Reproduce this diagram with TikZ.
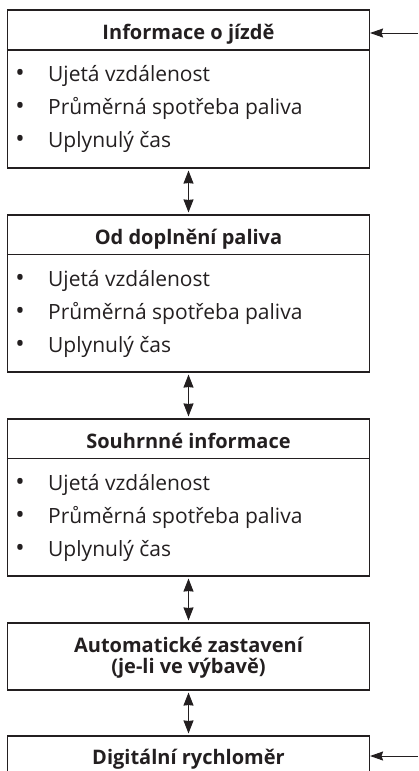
\documentclass[tikz,border=0pt]{standalone}
\usepackage{fontspec}
\setmainfont{Open Sans}
\usetikzlibrary{arrows.meta}
\definecolor{ink}{HTML}{231F20}
\begin{document}
\begin{tikzpicture}[x=1pt,y=-1pt,
  box/.style={draw=ink, line width=1.1pt, minimum width=362pt, inner sep=0pt, rectangle},
  head/.style={anchor=base, inner sep=0pt, text=ink, font=\fontsize{20}{23}\selectfont\bfseries},
  item/.style={anchor=base west, inner sep=0pt, text=ink, font=\fontsize{21}{24}\selectfont},
  bul/.style={anchor=base, inner sep=0pt, text=ink, font=\fontsize{25}{26}\selectfont},
  divider/.style={draw=ink, line width=1.1pt},
  link/.style={draw=ink, line width=1pt, {Stealth[length=13pt,width=10pt,inset=0.5pt]}-{Stealth[length=13pt,width=10pt,inset=0.5pt]}, shorten <=2pt, shorten >=2pt},
  feed/.style={draw=ink, line width=1pt, -{Stealth[length=13pt,width=9pt,inset=1.5pt]}}
]
\useasboundingbox (0,0) rectangle (418,771);

% boxes
\node[box, minimum height=158pt] (b1) at (188.5,89) {};
\node[box, minimum height=157pt] (b2) at (188.5,293.5) {};
\node[box, minimum height=157pt] (b3) at (188.5,497.5) {};
\node[box, minimum height=67pt] (b4) at (188.5,656.5) {};
\node[box, minimum height=80pt] (b5) at (188.5,776) {};

% header dividers
\coordinate (d1) at (0,50);
\coordinate (d2) at (0,254.5);
\coordinate (d3) at (0,458.5);
\draw[divider] (b1.west |- d1) -- (b1.east |- d1);
\draw[divider] (b2.west |- d2) -- (b2.east |- d2);
\draw[divider] (b3.west |- d3) -- (b3.east |- d3);

% headers
\node[head] (h1) at (188.5,39.5) {Informace o jízdě};
\node[head] (h2) at (188.5,244.5) {Od doplnění paliva};
\node[head] (h3) at (188.5,448.5) {Souhrnné informace};
\node[head] (h4a) at (188.5,652.5) {Automatické zastavení};
\node[head] (h4b) at (188.5,673.5) {(je-li ve výbavě)};
\node[head] (h5) at (188.5,764) {Digitální rychloměr};

% items box 1
\node[bul] (p11) at (20,81) {•};
\node[item] (t11) at (48,81) {Ujetá vzdálenost};
\node[bul] (p12) at (20,114.5) {•};
\node[item] (t12) at (48,114.5) {Průměrná spotřeba paliva};
\node[bul] (p13) at (20,147.5) {•};
\node[item] (t13) at (48,147.5) {Uplynulý čas};
% items box 2
\node[bul] (p21) at (20,286.5) {•};
\node[item] (t21) at (48,286.5) {Ujetá vzdálenost};
\node[bul] (p22) at (20,319.5) {•};
\node[item] (t22) at (48,319.5) {Průměrná spotřeba paliva};
\node[bul] (p23) at (20,352.5) {•};
\node[item] (t23) at (48,352.5) {Uplynulý čas};
% items box 3
\node[bul] (p31) at (20,490.5) {•};
\node[item] (t31) at (48,490.5) {Ujetá vzdálenost};
\node[bul] (p32) at (20,523.5) {•};
\node[item] (t32) at (48,523.5) {Průměrná spotřeba paliva};
\node[bul] (p33) at (20,556.5) {•};
\node[item] (t33) at (48,556.5) {Uplynulý čas};

% vertical links
\draw[link] (b1.south) -- (b2.north);
\draw[link] (b2.south) -- (b3.north);
\draw[link] (b3.south) -- (b4.north);
\draw[link] (b4.south) -- (b5.north);

% incoming arrows
\coordinate (f1) at (418,33);
\coordinate (f5) at (418,756);
\draw[feed] (f1) -- (b1.east |- f1);
\draw[feed] (f5) -- (b5.east |- f5);
\end{tikzpicture}
\end{document}
